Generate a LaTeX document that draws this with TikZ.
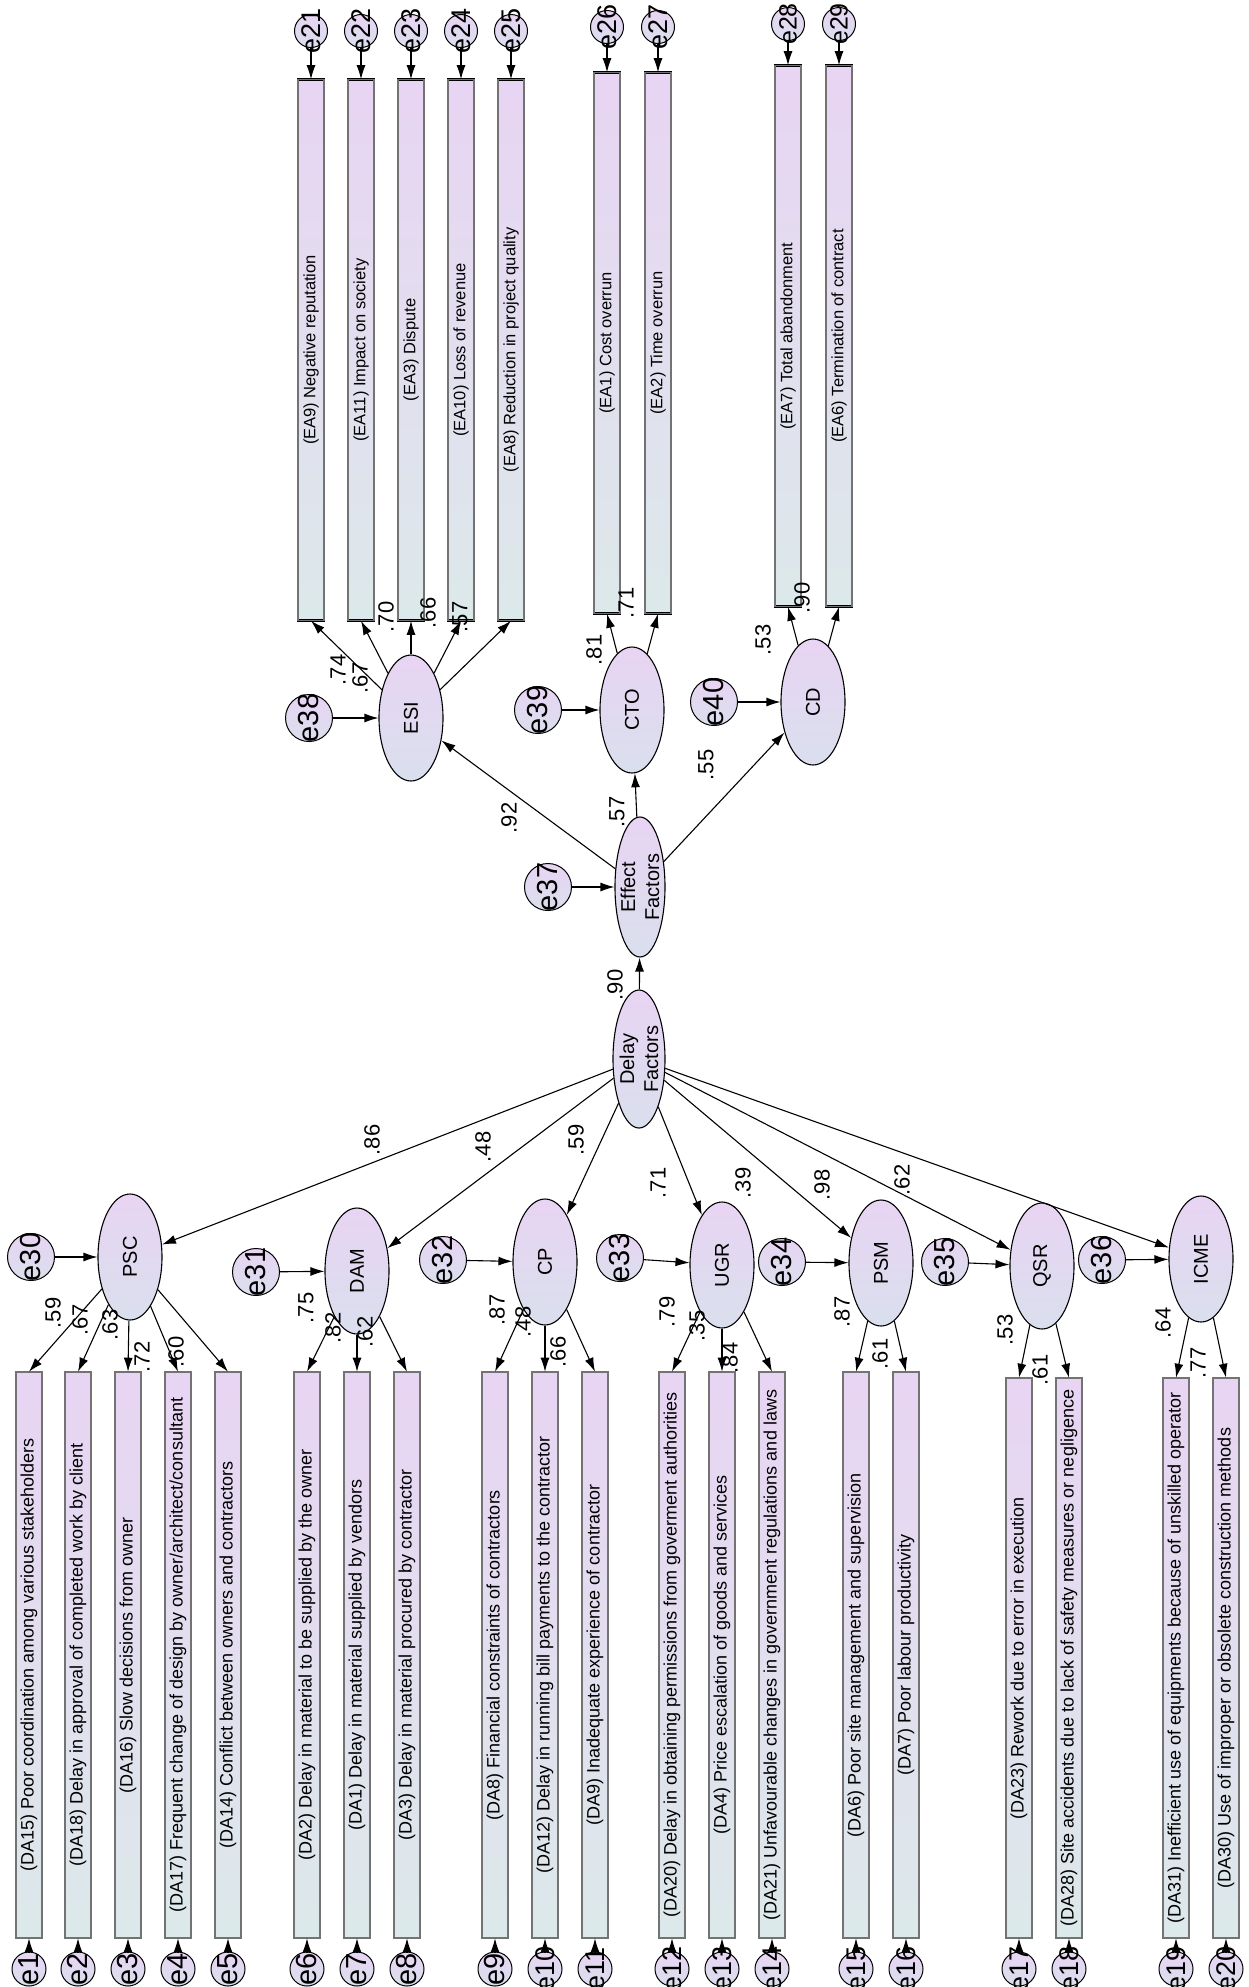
\documentclass[tikz,border=0pt]{standalone}
\usepackage{fontspec}
\setmainfont{Liberation Sans}
\usetikzlibrary{arrows.meta,shapes.geometric}

\definecolor{lpink}{RGB}{232,212,243}
\definecolor{lcyan}{RGB}{220,233,234}
\definecolor{lgrey}{RGB}{218,223,237}

\tikzset{
  obs/.style={draw=black,double=black!55,double distance=1.1pt,line width=0.6pt,
    top color=lpink,bottom color=lcyan,minimum width=26,minimum height=#1,inner sep=0pt},
  latent/.style={ellipse,draw,line width=1.1pt,top color=lpink,bottom color=lgrey,
    minimum width=64,minimum height=126,inner sep=0pt},
  err/.style={circle,draw,line width=1pt,top color=lpink,bottom color=lgrey,
    minimum size=#1,inner sep=0pt},
  dtxt/.style={rotate=90,font=\fontsize{18}{20}\selectfont},
  etxt/.style={rotate=90,font=\fontsize{16.5}{18}\selectfont},
  ltxt/.style={rotate=90,align=center,font=\fontsize{20}{24}\selectfont},
  rtxt/.style={rotate=90,font=\fontsize{#1}{#1}\selectfont},
  coef/.style={rotate=90,inner sep=0pt,font=\fontsize{22}{22}\selectfont},
  arr/.style={-{Latex[length=14pt,width=9pt]},line width=1.1pt}
}

\begin{document}
\begin{tikzpicture}[x=1pt,y=-1pt]

\useasboundingbox (0,0) rectangle (1248,1987);

    \node[latent,minimum width=52,minimum height=138,label={[ltxt]center:Delay\\Factors}] at (639,1059) (DF) {};
    \node[latent,minimum width=50,minimum height=140,label={[ltxt]center:Effect\\Factors}] at (640,887) (EF) {};

   \node[latent,label={[ltxt]center:ESI}] at (411,718) (ESI) {};
   \node[latent,label={[ltxt]center:CTO}] at (632,710) (CTO) {};
   \node[latent,label={[ltxt]center:CD}] at (813,702) (CD) {};

   \node[latent,label={[ltxt]center:PSC}] at (130,1257) (PSC) {};
   \node[latent,label={[ltxt]center:DAM}] at (357,1271) (DAM) {};
   \node[latent,label={[ltxt]center:CP}] at (545,1262) (CP) {};
   \node[latent,label={[ltxt]center:UGR}] at (722,1265) (UGR) {};
   \node[latent,label={[ltxt]center:PSM}] at (881,1263) (PSM) {};
   \node[latent,label={[ltxt]center:QSR}] at (1042,1266) (QSR) {};
   \node[latent,label={[ltxt]center:ICME}] at (1201,1259) (ICME) {};

   \node[err=47,label={[rtxt=29]center:e30}] at (31,1257) (e30) {};
   \node[err=47,label={[rtxt=29]center:e31}] at (256,1272) (e31) {};
   \node[err=47,label={[rtxt=29]center:e32}] at (443,1260) (e32) {};
   \node[err=47,label={[rtxt=29]center:e33}] at (620,1258) (e33) {};
   \node[err=47,label={[rtxt=29]center:e34}] at (782,1262) (e34) {};
   \node[err=47,label={[rtxt=29]center:e35}] at (945,1262) (e35) {};
   \node[err=47,label={[rtxt=29]center:e36}] at (1102,1260) (e36) {};
   \node[err=47,label={[rtxt=29]center:e37}] at (548,887) (e37) {};
   \node[err=47,label={[rtxt=29]center:e38}] at (309,718) (e38) {};
   \node[err=47,label={[rtxt=29]center:e39}] at (538,710) (e39) {};
   \node[err=47,label={[rtxt=29]center:e40}] at (714,702) (e40) {};

    \node[obs=541,label={[etxt]center:(EA9) Negative reputation}] at (311,350) (EA9) {};
    \node[obs=541,label={[etxt]center:(EA11) Impact on society}] at (361,350) (EA11) {};
    \node[obs=541,label={[etxt]center:(EA3) Dispute}] at (411,350) (EA3) {};
    \node[obs=541,label={[etxt]center:(EA10) Loss of revenue}] at (461,350) (EA10) {};
    \node[obs=541,label={[etxt]center:(EA8) Reduction in project quality}] at (511,350) (EA8) {};
    \node[obs=541,label={[etxt]center:(EA1) Cost overrun}] at (607,343) (EA1) {};
    \node[obs=541,label={[etxt]center:(EA2) Time overrun}] at (658,343) (EA2) {};
    \node[obs=541,label={[etxt]center:(EA7) Total abandonment}] at (788,336) (EA7) {};
    \node[obs=541,label={[etxt]center:(EA6) Termination of contract}] at (839,336) (EA6) {};

   \node[err=33,label={[rtxt=27]center:e21}] at (311,31) (e21) {};
   \node[err=33,label={[rtxt=27]center:e22}] at (361,31) (e22) {};
   \node[err=33,label={[rtxt=27]center:e23}] at (411,31) (e23) {};
   \node[err=33,label={[rtxt=27]center:e24}] at (461,31) (e24) {};
   \node[err=33,label={[rtxt=27]center:e25}] at (511,31) (e25) {};
   \node[err=33,label={[rtxt=27]center:e26}] at (607,27) (e26) {};
   \node[err=33,label={[rtxt=27]center:e27}] at (658,27) (e27) {};
   \node[err=33,label={[rtxt=25]center:e28}] at (788,24) (e28) {};
   \node[err=33,label={[rtxt=25]center:e29}] at (839,24) (e29) {};

    \node[obs=566,label={[dtxt]center:(DA15) Poor coordination among various stakeholders}] at (29,1655) (DA15) {};
    \node[obs=566,label={[dtxt]center:(DA18) Delay in approval of completed work by client}] at (78,1655) (DA18) {};
    \node[obs=566,label={[dtxt]center:(DA16) Slow decisions from owner}] at (128,1655) (DA16) {};
    \node[obs=566,label={[dtxt]center:(DA17) Frequent change of design by owner/architect/consultant}] at (178,1655) (DA17) {};
    \node[obs=566,label={[dtxt]center:(DA14) Conflict between owners and contractors}] at (228,1655) (DA14) {};
    \node[obs=566,label={[dtxt]center:(DA2) Delay in material to be supplied by the owner}] at (307,1655) (DA2) {};
    \node[obs=566,label={[dtxt]center:(DA1) Delay in material supplied by vendors}] at (357,1655) (DA1) {};
    \node[obs=566,label={[dtxt]center:(DA3) Delay in material procured by contractor}] at (407,1655) (DA3) {};
    \node[obs=566,label={[dtxt]center:(DA8) Financial constraints of contractors}] at (495,1655) (DA8) {};
    \node[obs=566,label={[dtxt]center:(DA12) Delay in running bill payments to the contractor}] at (545,1655) (DA12) {};
    \node[obs=566,label={[dtxt]center:(DA9) Inadequate experience of contractor}] at (595,1655) (DA9) {};
    \node[obs=566,label={[dtxt]center:(DA20) Delay in obtaining permissions from goverment authorities}] at (672,1655) (DA20) {};
    \node[obs=566,label={[dtxt]center:(DA4) Price escalation of goods and services}] at (722,1655) (DA4) {};
    \node[obs=566,label={[dtxt]center:(DA21) Unfavourable changes in government regulations and laws}] at (772,1655) (DA21) {};
    \node[obs=566,label={[dtxt]center:(DA6) Poor site management and supervision}] at (856,1655) (DA6) {};
    \node[obs=566,label={[dtxt]center:(DA7) Poor labour productivity}] at (906,1655) (DA7) {};
    \node[obs=560,label={[dtxt]center:(DA23) Rework due to error in execution}] at (1019,1658) (DA23) {};
    \node[obs=560,label={[dtxt]center:(DA28) Site accidents due to lack of safety measures or negligence}] at (1069,1658) (DA28) {};
    \node[obs=560,label={[dtxt]center:(DA31) Inefficient use of equipments because of unskilled operator}] at (1176,1658) (DA31) {};
    \node[obs=560,label={[dtxt]center:(DA30) Use of improper or obsolete construction methods}] at (1226,1658) (DA30) {};

   \node[err=34,label={[rtxt=29]center:e1}] at (29,1969) (e1) {};
   \node[err=34,label={[rtxt=29]center:e2}] at (78,1969) (e2) {};
   \node[err=34,label={[rtxt=29]center:e3}] at (128,1969) (e3) {};
   \node[err=34,label={[rtxt=29]center:e4}] at (178,1969) (e4) {};
   \node[err=34,label={[rtxt=29]center:e5}] at (228,1969) (e5) {};
   \node[err=34,label={[rtxt=29]center:e6}] at (307,1969) (e6) {};
   \node[err=34,label={[rtxt=29]center:e7}] at (357,1969) (e7) {};
   \node[err=34,label={[rtxt=29]center:e8}] at (407,1969) (e8) {};
   \node[err=34,label={[rtxt=29]center:e9}] at (495,1969) (e9) {};
   \node[err=34,label={[rtxt=27]center:e10}] at (545,1969) (e10) {};
   \node[err=34,label={[rtxt=27]center:e11}] at (595,1969) (e11) {};
   \node[err=34,label={[rtxt=27]center:e12}] at (672,1969) (e12) {};
   \node[err=34,label={[rtxt=27]center:e13}] at (722,1969) (e13) {};
   \node[err=34,label={[rtxt=27]center:e14}] at (772,1969) (e14) {};
   \node[err=34,label={[rtxt=27]center:e15}] at (856,1969) (e15) {};
   \node[err=34,label={[rtxt=27]center:e16}] at (906,1969) (e16) {};
   \node[err=34,label={[rtxt=27]center:e17}] at (1019,1969) (e17) {};
   \node[err=34,label={[rtxt=27]center:e18}] at (1069,1969) (e18) {};
   \node[err=34,label={[rtxt=27]center:e19}] at (1176,1969) (e19) {};
   \node[err=34,label={[rtxt=27]center:e20}] at (1226,1969) (e20) {};


    \draw[arr] (DF) -- (EF);
    \draw[arr] (EF) -- (ESI);
    \draw[arr] (EF) -- (CTO);
    \draw[arr] (EF) -- (CD);

    \draw[arr] (DF) -- (PSC);
    \draw[arr] (DF) -- (DAM);
    \draw[arr] (DF) -- (CP);
    \draw[arr] (DF) -- (UGR);
    \draw[arr] (DF) -- (PSM);
    \draw[arr] (DF) -- (QSR);
    \draw[arr] (DF) -- (ICME);

   \draw[arr] (e30) -- (PSC);
   \draw[arr] (e31) -- (DAM);
   \draw[arr] (e32) -- (CP);
   \draw[arr] (e33) -- (UGR);
   \draw[arr] (e34) -- (PSM);
   \draw[arr] (e35) -- (QSR);
   \draw[arr] (e36) -- (ICME);
   \draw[arr] (e37) -- (EF);
   \draw[arr] (e38) -- (ESI);
   \draw[arr] (e39) -- (CTO);
   \draw[arr] (e40) -- (CD);

    \draw[arr] (ESI) -- (EA9.south);
    \draw[arr] (ESI) -- (EA11.south);
    \draw[arr] (ESI) -- (EA3.south);
    \draw[arr] (ESI) -- (EA10.south);
    \draw[arr] (ESI) -- (EA8.south);
    \draw[arr] (CTO) -- (EA1.south);
    \draw[arr] (CTO) -- (EA2.south);
    \draw[arr] (CD) -- (EA7.south);
    \draw[arr] (CD) -- (EA6.south);

   \draw[arr] (e21) -- (EA9.north);
   \draw[arr] (e22) -- (EA11.north);
   \draw[arr] (e23) -- (EA3.north);
   \draw[arr] (e24) -- (EA10.north);
   \draw[arr] (e25) -- (EA8.north);
   \draw[arr] (e26) -- (EA1.north);
   \draw[arr] (e27) -- (EA2.north);
   \draw[arr] (e28) -- (EA7.north);
   \draw[arr] (e29) -- (EA6.north);

    \draw[arr] (PSC) -- (DA15.north);
    \draw[arr] (PSC) -- (DA18.north);
    \draw[arr] (PSC) -- (DA16.north);
    \draw[arr] (PSC) -- (DA17.north);
    \draw[arr] (PSC) -- (DA14.north);
    \draw[arr] (DAM) -- (DA2.north);
    \draw[arr] (DAM) -- (DA1.north);
    \draw[arr] (DAM) -- (DA3.north);
    \draw[arr] (CP) -- (DA8.north);
    \draw[arr] (CP) -- (DA12.north);
    \draw[arr] (CP) -- (DA9.north);
    \draw[arr] (UGR) -- (DA20.north);
    \draw[arr] (UGR) -- (DA4.north);
    \draw[arr] (UGR) -- (DA21.north);
    \draw[arr] (PSM) -- (DA6.north);
    \draw[arr] (PSM) -- (DA7.north);
    \draw[arr] (QSR) -- (DA23.north);
    \draw[arr] (QSR) -- (DA28.north);
    \draw[arr] (ICME) -- (DA31.north);
    \draw[arr] (ICME) -- (DA30.north);

   \draw[arr] (e1) -- (DA15.south);
   \draw[arr] (e2) -- (DA18.south);
   \draw[arr] (e3) -- (DA16.south);
   \draw[arr] (e4) -- (DA17.south);
   \draw[arr] (e5) -- (DA14.south);
   \draw[arr] (e6) -- (DA2.south);
   \draw[arr] (e7) -- (DA1.south);
   \draw[arr] (e8) -- (DA3.south);
   \draw[arr] (e9) -- (DA8.south);
   \draw[arr] (e10) -- (DA12.south);
   \draw[arr] (e11) -- (DA9.south);
   \draw[arr] (e12) -- (DA20.south);
   \draw[arr] (e13) -- (DA4.south);
   \draw[arr] (e14) -- (DA21.south);
   \draw[arr] (e15) -- (DA6.south);
   \draw[arr] (e16) -- (DA7.south);
   \draw[arr] (e17) -- (DA23.south);
   \draw[arr] (e18) -- (DA28.south);
   \draw[arr] (e19) -- (DA31.south);
   \draw[arr] (e20) -- (DA30.south);

    \node[coef] at (615,985) (wEF) {.90};
    \node[coef] at (509,818) (wESI) {.92};
    \node[coef] at (617,812) (wCTO) {.57};
    \node[coef] at (706,765) (wCD) {.55};
    \node[coef] at (372,1140) (wPSC) {.86};
    \node[coef] at (483,1147) (wDAM) {.48};
    \node[coef] at (576,1140) (wCP) {.59};
    \node[coef] at (658,1183) (wUGR) {.71};
    \node[coef] at (743,1183) (wPSM) {.39};
    \node[coef] at (822,1185) (wQSR) {.98};
    \node[coef] at (902,1180) (wICME) {.62};

   \node[coef] at (338,670) (wEA9) {.74};
   \node[coef] at (360,678) (wEA11) {.67};
   \node[coef] at (386,617) (wEA3) {.70};
   \node[coef] at (428,613) (wEA10) {.66};
   \node[coef] at (460,617) (wEA8) {.57};
   \node[coef] at (594,650) (wEA1) {.81};
   \node[coef] at (626,603) (wEA2) {.71};
   \node[coef] at (763,640) (wEA7) {.53};
   \node[coef] at (802,598) (wEA6) {.90};

   \node[coef] at (53,1313) (wDA15) {.59};
   \node[coef] at (80,1320) (wDA18) {.67};
   \node[coef] at (110,1325) (wDA16) {.63};
   \node[coef] at (142,1357) (wDA17) {.72};
   \node[coef] at (176,1352) (wDA14) {.60};
   \node[coef] at (306,1308) (wDA2) {.75};
   \node[coef] at (333,1328) (wDA1) {.82};
   \node[coef] at (365,1332) (wDA3) {.62};
   \node[coef] at (497,1310) (wDA8) {.87};
   \node[coef] at (523,1322) (wDA12) {.48};
   \node[coef] at (558,1352) (wDA9) {.66};
   \node[coef] at (667,1312) (wDA20) {.79};
   \node[coef] at (697,1326) (wDA4) {.35};
   \node[coef] at (730,1358) (wDA21) {.84};
   \node[coef] at (842,1312) (wDA6) {.87};
   \node[coef] at (880,1354) (wDA7) {.61};
   \node[coef] at (1005,1330) (wDA23) {.53};
   \node[coef] at (1040,1370) (wDA28) {.61};
   \node[coef] at (1163,1323) (wDA31) {.64};
   \node[coef] at (1198,1363) (wDA30) {.77};

\end{tikzpicture}
\end{document}
